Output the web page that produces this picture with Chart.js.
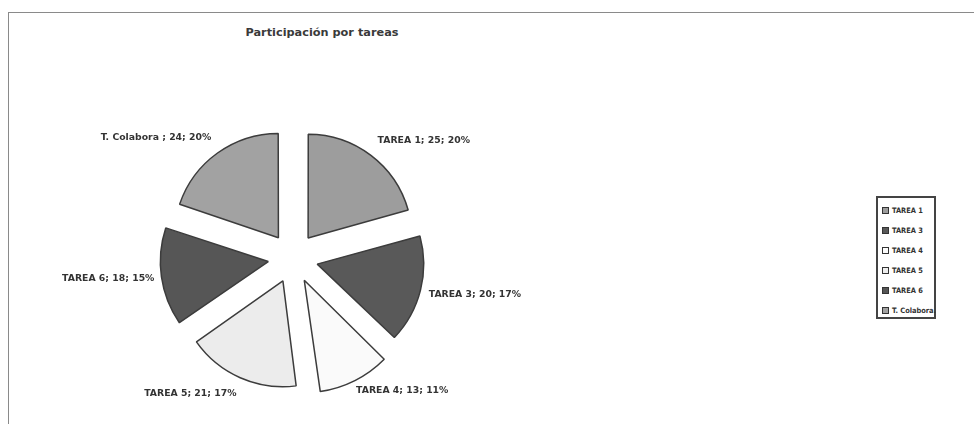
<!DOCTYPE html>
<html lang="es">
<head>
    <meta charset="UTF-8">
    <title>Participación por tareas</title>
    <script src="https://cdn.jsdelivr.net/npm/chart.js"></script>
    <style>
        body { margin: 0; background: #fff; width: 974px; height: 424px; overflow: hidden; position: relative; font-family: "DejaVu Sans", sans-serif; }
        #frame { position: absolute; left: 8px; top: 12px; right: -2px; bottom: -2px; border-top: 1px solid #8a8a8a; border-left: 1px solid #8a8a8a; }
        #title { position: absolute; left: 222px; width: 200px; top: 26px; text-align: center; font-size: 11.3px; font-weight: bold; color: #3a3a3a; }
        #chartBox { position: absolute; left: 8px; top: 12px; width: 600px; height: 400px; }
        #legend { position: absolute; left: 876px; top: 196px; width: 56px; height: 119px; border: 2px solid #444; padding: 0; }
        #legend div { position: absolute; left: 4px; font-family: "DejaVu Sans Condensed", "Liberation Sans Narrow", sans-serif; font-size: 7.4px; font-weight: bold; color: #333; white-space: nowrap; }
        #legend span { display: inline-block; width: 5px; height: 5px; border: 1px solid #333; margin-right: 3px; vertical-align: -1px; }
    </style>
</head>
<body>
    <div id="frame"></div>
    <div id="title">Participación por tareas</div>
    <div id="chartBox"><canvas id="pieChart" width="600" height="400"></canvas></div>
    <div id="legend"></div>

    <script>
        var categories = ['TAREA 1', 'TAREA 3', 'TAREA 4', 'TAREA 5', 'TAREA 6', 'T. Colabora'];
        var legendNames = ['TAREA 1', 'TAREA 3', 'TAREA 4', 'TAREA 5', 'TAREA 6', 'T. Colabora.'];
        var horas = [25, 20, 13, 21, 18, 24];
        var porcentajes = [20, 17, 11, 17, 15, 20];
        var colores = ['#9d9d9d', '#595959', '#fafafa', '#ececec', '#565656', '#a2a2a2'];

        // etiquetas fuera de cada porcion: "nombre; valor; %"
        var labelPlugin = {
            id: 'sliceLabels',
            afterDatasetsDraw: function (chart) {
                var ctx = chart.ctx;
                var meta = chart.getDatasetMeta(0);
                ctx.save();
                ctx.font = 'bold 9.3px "DejaVu Sans", sans-serif';
                ctx.fillStyle = '#333';
                ctx.textBaseline = 'middle';
                meta.data.forEach(function (arc, i) {
                    var p = arc.getProps(['x', 'y', 'startAngle', 'endAngle', 'outerRadius']);
                    var mid = (p.startAngle + p.endAngle) / 2;
                    // chart.js desplaza la porcion offset/4
                    var base = p.outerRadius + arc.options.offset / 4;
                    var x = p.x + Math.cos(mid) * (base + 12);
                    var y = p.y + Math.sin(mid) * (base + 20);
                    ctx.textAlign = Math.cos(mid) >= 0 ? 'left' : 'right';
                    var sep = categories[i] === 'T. Colabora' ? ' ; ' : '; ';
                    ctx.fillText(categories[i] + sep + horas[i] + '; ' + porcentajes[i] + '%', x, y);
                });
                ctx.restore();
            }
        };

        var ctx = document.getElementById('pieChart').getContext('2d');
        var pieChart = new Chart(ctx, {
            type: 'pie',
            data: {
                labels: categories,
                datasets: [{
                    data: horas,
                    backgroundColor: colores,
                    borderColor: '#3c3c3c',
                    borderWidth: 1.5,
                    offset: 100,
                    radius: 103
                }]
            },
            options: {
                responsive: false,
                animation: false,
                layout: { padding: { left: 0, right: 30, top: 92, bottom: 0 } },
                plugins: {
                    legend: { display: false },
                    tooltip: { enabled: false }
                }
            },
            plugins: [labelPlugin]
        });

        var legend = document.getElementById('legend');
        legendNames.forEach(function (name, i) {
            var row = document.createElement('div');
            row.style.top = (8 + i * 20) + 'px';
            row.innerHTML = '<span style="background:' + colores[i] + '"></span>' + name;
            legend.appendChild(row);
        });
    </script>
</body>
</html>
